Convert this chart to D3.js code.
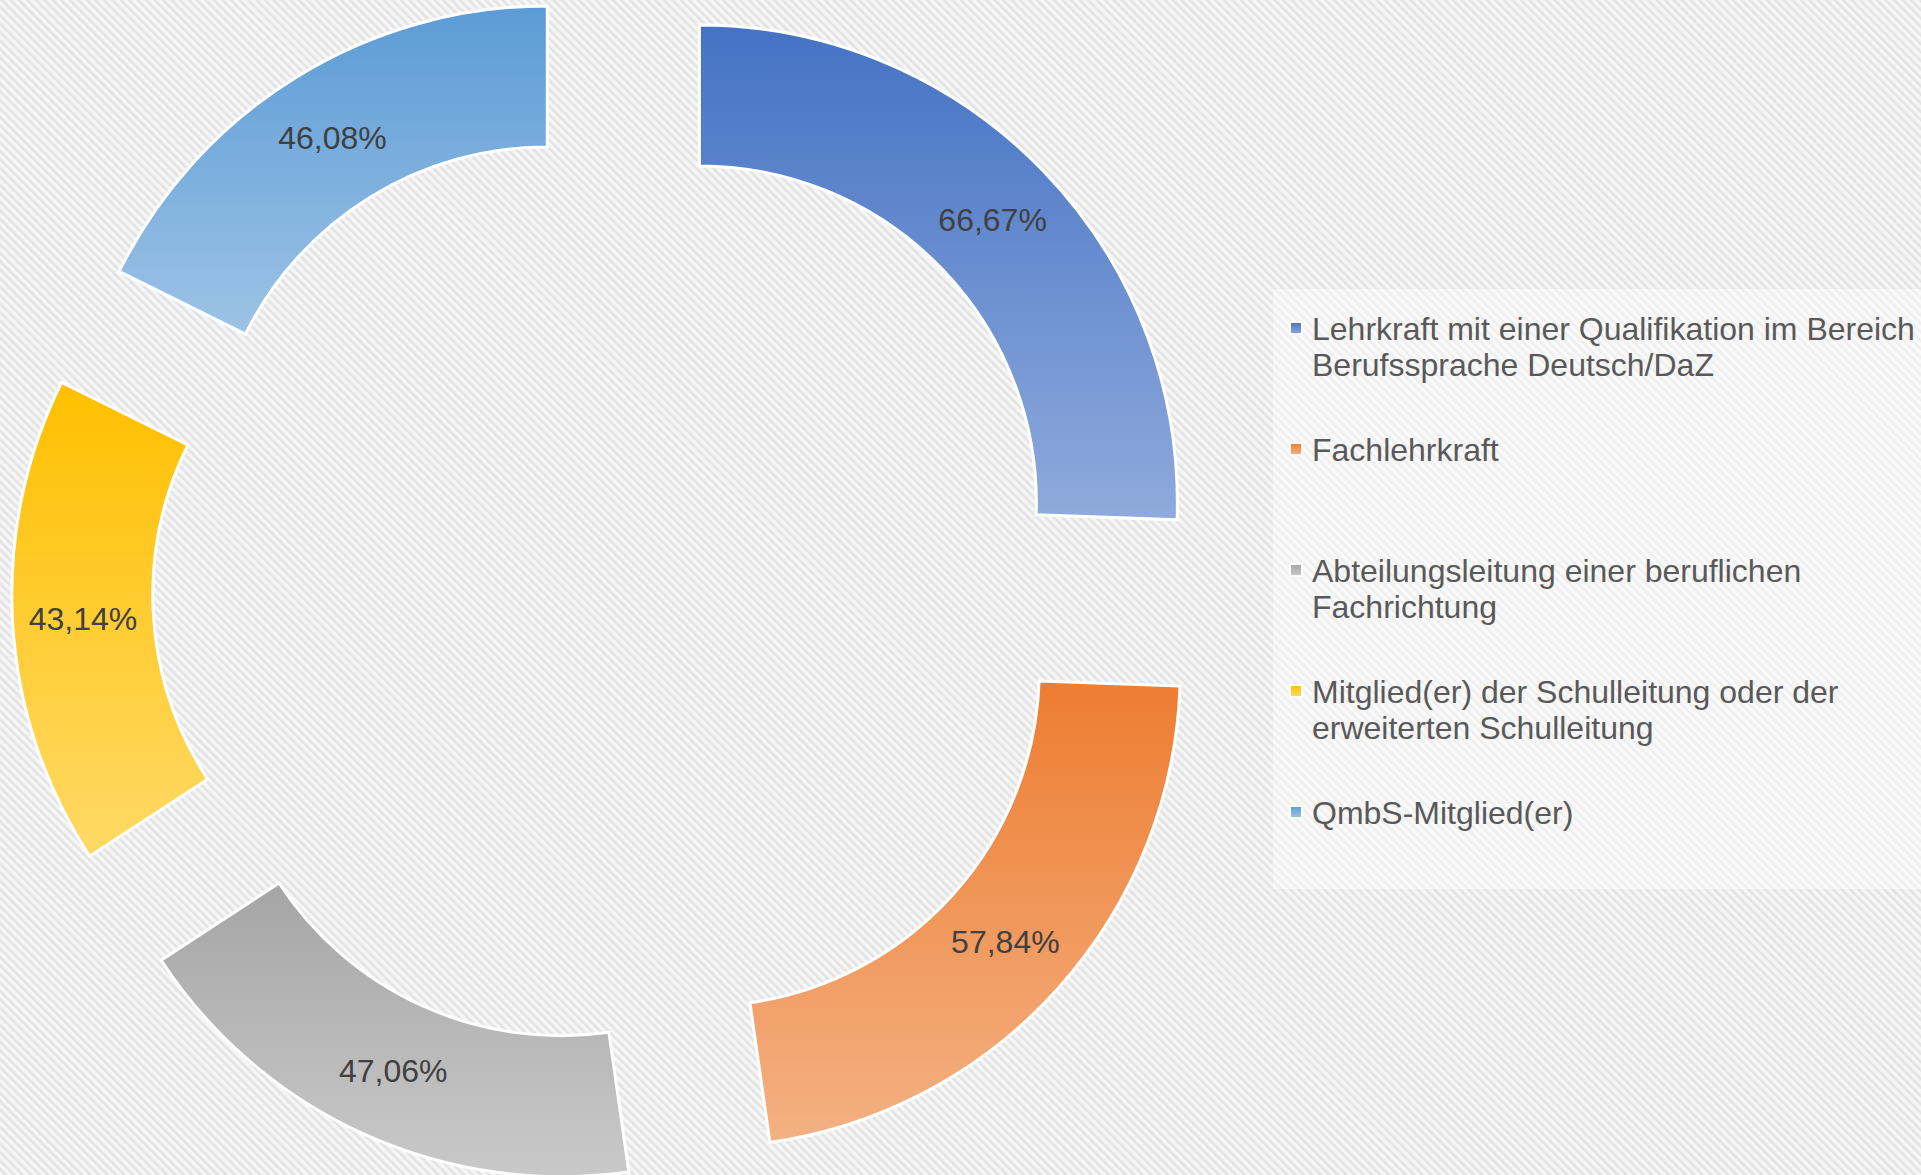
<!DOCTYPE html>
<html>
<head>
<meta charset="utf-8">
<script src="https://cdn.jsdelivr.net/npm/d3@7"></script>
<style>
  html, body { margin: 0; padding: 0; background: #f4f4f4; }
  svg { display: block; }
</style>
</head>
<body>
<svg id="chart" width="1921" height="1175"></svg>
<script>
// Data
const categories = [
  "Lehrkraft mit einer Qualifikation im Bereich Berufssprache Deutsch/DaZ",
  "Fachlehrkraft",
  "Abteilungsleitung einer beruflichen Fachrichtung",
  "Mitglied(er) der Schulleitung oder der erweiterten Schulleitung",
  "QmbS-Mitglied(er)"
];
const values = [66.67, 57.84, 47.06, 43.14, 46.08];
const valueLabels = ["66,67%", "57,84%", "47,06%", "43,14%", "46,08%"];
const topColors = ["#4472C4", "#ED7D31", "#A5A5A5", "#FFC000", "#5B9BD5"];
const bottomColors = ["#8FAADC", "#F4B183", "#C9C9C9", "#FFD966", "#9DC3E6"];

// Layout
const W = 1921, H = 1175;
const CX = 611.6, CY = 587.6;
const R_OUT = 478, R_IN = 337, EXPLODE = 122;
const FONT = "'Liberation Sans', Arial, sans-serif";

const svg = d3.select("#chart");
const defs = svg.append("defs");

//Diagonal hatch background
const pat = defs.append("pattern")
  .attr("id", "hatch")
  .attr("patternUnits", "userSpaceOnUse")
  .attr("width", 6)
  .attr("height", 6)
  .attr("patternTransform", "rotate(-45)");
pat.append("rect").attr("width", 6).attr("height", 6).attr("fill", "#f6f6f6");
pat.append("rect").attr("width", 2.6).attr("height", 6).attr("fill", "#e3e3e3");

svg.append("rect")
  .attr("width", W).attr("height", H)
  .attr("fill", "url(#hatch)");

//Gradients, one per category
categories.forEach((_, i) => {
  let g = defs.append("linearGradient")
    .attr("id", `grad${i}`)
    .attr("x1", 0).attr("y1", 0).attr("x2", 0).attr("y2", 1);
  g.append("stop").attr("offset", "0%").attr("stop-color", topColors[i]);
  g.append("stop").attr("offset", "100%").attr("stop-color", bottomColors[i]);
});

const pie = d3.pie().sort(null).value(d => d);
const arc = d3.arc().innerRadius(R_IN).outerRadius(R_OUT);
const arcs = pie(values);

//shift each slice along its bisector
const shift = (d) => {
  let a = (d.startAngle + d.endAngle) / 2;
  return [EXPLODE * Math.sin(a), -EXPLODE * Math.cos(a)];
};

const root = svg.append("g")
  .attr("transform", `translate(${CX}, ${CY})`);

const slices = root.selectAll("g.slice")
  .data(arcs)
  .enter()
    .append("g")
    .classed("slice", true)
    .attr("transform", d => `translate(${shift(d)})`);

slices.append("path")
  .attr("d", arc)
  .attr("fill", (_, i) => `url(#grad${i})`)
  .attr("stroke", "#ffffff")
  .attr("stroke-width", 3)
  .attr("stroke-linejoin", "miter");

slices.append("text")
  .attr("transform", d => `translate(${arc.centroid(d)})`)
  .attr("text-anchor", "middle")
  .attr("dy", "0.36em")
  .attr("font-family", FONT)
  .attr("font-size", 32)
  .attr("fill", "#404040")
  .text((_, i) => valueLabels[i]);

//Legend
const legend = svg.append("g").attr("id", "legend");
legend.append("rect")
  .attr("x", 1273).attr("y", 289)
  .attr("width", 648).attr("height", 600)
  .attr("fill", "#ffffff")
  .attr("fill-opacity", 0.42);

const LEG_X = 1312, LEG_Y = 340, LEG_STEP = 121, LINE_H = 36, WRAP = 612;

const items = legend.selectAll("g.item")
  .data(categories)
  .enter()
    .append("g")
    .classed("item", true)
    .attr("transform", (_, i) => `translate(0, ${LEG_Y + i * LEG_STEP})`);

items.append("rect")
  .attr("x", 1290).attr("y", -18)
  .attr("width", 12).attr("height", 12)
  .attr("fill", (_, i) => `url(#grad${i})`)
  .attr("stroke", "#ffffff")
  .attr("stroke-width", 2);

items.append("text")
  .attr("x", LEG_X)
  .attr("font-family", FONT)
  .attr("font-size", 32)
  .attr("fill", "#595959")
  .each(function (d) {
    //word wrap into tspans
    let text = d3.select(this);
    let words = d.split(" ");
    let line = [];
    let lineNo = 0;
    let tspan = text.append("tspan").attr("x", LEG_X).attr("y", 0);
    words.forEach(w => {
      line.push(w);
      tspan.text(line.join(" "));
      if (tspan.node().getComputedTextLength() > WRAP && line.length > 1) {
        line.pop();
        tspan.text(line.join(" "));
        line = [w];
        lineNo++;
        tspan = text.append("tspan").attr("x", LEG_X).attr("y", lineNo * LINE_H).text(w);
      }
    });
  });
</script>
</body>
</html>
